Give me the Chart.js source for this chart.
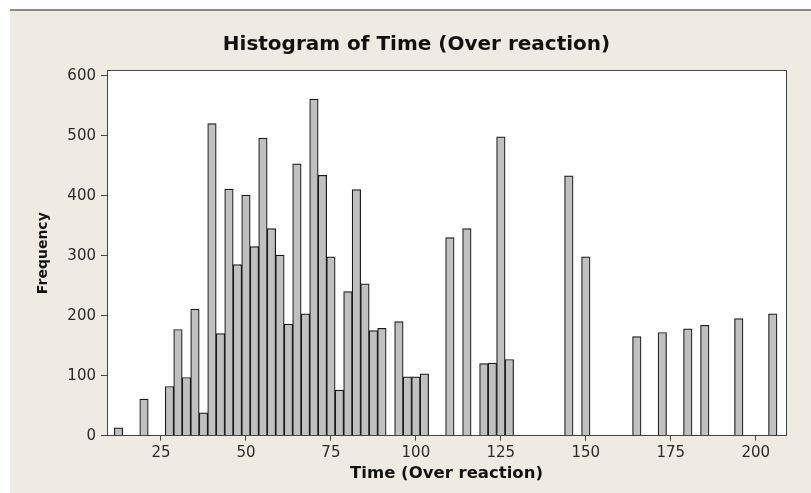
<!DOCTYPE html>
<html>
<head>
<meta charset="utf-8">
<script src="https://cdn.jsdelivr.net/npm/chart.js@4/dist/chart.umd.min.js"></script>
<style>
  html, body { margin: 0; padding: 0; background: #ffffff; overflow: hidden; width: 811px; height: 493px; }
  #topline { position: absolute; left: 10px; top: 9px; width: 801px; height: 2px; background: #8a8a8a; }
  #c { position: absolute; left: 10px; top: 11px; background: #efebe2; }
</style>
</head>
<body>
<div id="topline"></div>
<canvas id="c" width="813" height="482"></canvas>
<script>
// Bin centres (Time) and frequencies
const binCenters = [12.5, 20, 27.5, 30, 32.5, 35, 37.5, 40, 42.5, 45, 47.5, 50, 52.5, 55, 57.5, 60,
  62.5, 65, 67.5, 70, 72.5, 75, 77.5, 80, 82.5, 85, 87.5, 90, 95, 97.5, 100, 102.5,
  110, 115, 120, 122.5, 125, 127.5, 145, 150, 165, 172.5, 180, 185, 195, 205];
const frequencies = [13, 61, 82, 177, 97, 211, 38, 520, 170, 411, 285, 401, 315, 496, 345, 301,
  186, 453, 203, 561, 434, 298, 76, 240, 410, 253, 175, 179, 190, 98, 98, 103,
  330, 345, 120, 121, 498, 127, 433, 298, 165, 172, 178, 184, 195, 203];
const xTicks = [25, 50, 75, 100, 125, 150, 175, 200];
const yTicks = [0, 100, 200, 300, 400, 500, 600];

const titleText = 'Histogram of Time (Over reaction)';
const xTitle = 'Time (Over reaction)';
const yTitle = 'Frequency';

const points = binCenters.map((x, i) => ({ x: x, y: frequencies[i] }));

const framePlugin = {
  id: 'frame',
  beforeDraw(chart) {
    const a = chart.chartArea, ctx = chart.ctx;
    ctx.save();
    ctx.fillStyle = '#ffffff';
    ctx.fillRect(a.left, a.top, a.right - a.left, a.bottom - a.top);
    ctx.restore();
  },
  afterDatasetsDraw(chart) {
    const a = chart.chartArea, ctx = chart.ctx;
    ctx.save();
    ctx.strokeStyle = '#444';
    ctx.lineWidth = 1;
    ctx.strokeRect(Math.floor(a.left) + 0.5, Math.floor(a.top) + 0.5,
      Math.round(a.right - a.left), Math.round(a.bottom - a.top));
    ctx.restore();
  }
};

const tickFont = { family: 'DejaVu Sans', size: 15 };

new Chart(document.getElementById('c'), {
  type: 'bar',
  data: {
    datasets: [{
      data: points,
      backgroundColor: '#c0c0c0',
      borderColor: '#1a1a1a',
      borderWidth: 1.2,
      barPercentage: 1,
      categoryPercentage: 1
    }]
  },
  options: {
    responsive: false,
    animation: false,
    devicePixelRatio: 1,
    layout: { padding: 0 },
    plugins: {
      legend: { display: false },
      tooltip: { enabled: false },
      title: {
        display: true,
        text: titleText,
        color: '#111',
        font: { family: 'DejaVu Sans', size: 20, weight: 'bold', lineHeight: 1.2 },
        padding: { top: 21.7, bottom: 14 }
      }
    },
    scales: {
      x: {
        type: 'linear',
        position: 'bottom',
        min: 9.12,
        max: 208.9,
        offset: false,
        afterBuildTicks: s => { s.ticks = xTicks.map(v => ({ value: v })); },
        afterFit: s => { s.height = 57.3; },
        grid: { display: true, offset: false, drawOnChartArea: false, drawTicks: true, tickLength: 5, color: '#444' },
        border: { display: true, color: '#444' },
        ticks: { font: tickFont, color: '#2a2a2a', padding: 3, maxRotation: 0, autoSkip: false },
        title: {
          display: true, text: xTitle, color: '#111',
          font: { family: 'DejaVu Sans', size: 16.5, weight: 'bold', lineHeight: 1.2 },
          padding: { top: 0, bottom: 9 }
        }
      },
      y: {
        type: 'linear',
        position: 'left',
        min: 0,
        max: 608.3,
        afterBuildTicks: s => { s.ticks = yTicks.map(v => ({ value: v })); },
        afterFit: s => { s.width = 97; },
        grid: { display: true, drawOnChartArea: false, drawTicks: true, tickLength: 6, color: '#444' },
        border: { display: true, color: '#444' },
        ticks: { font: tickFont, color: '#2a2a2a', padding: 5 },
        title: {
          display: true, text: yTitle, color: '#111',
          font: { family: 'DejaVu Sans', size: 14, weight: 'bold', lineHeight: 1.2 },
          padding: { top: 24.6, bottom: 0 }
        }
      },
      y2: {
        type: 'linear',
        position: 'right',
        display: true,
        grid: { display: false },
        border: { display: false },
        ticks: { display: false },
        afterFit: s => { s.width = 37; }
      }
    }
  },
  plugins: [framePlugin]
});
</script>
</body>
</html>
